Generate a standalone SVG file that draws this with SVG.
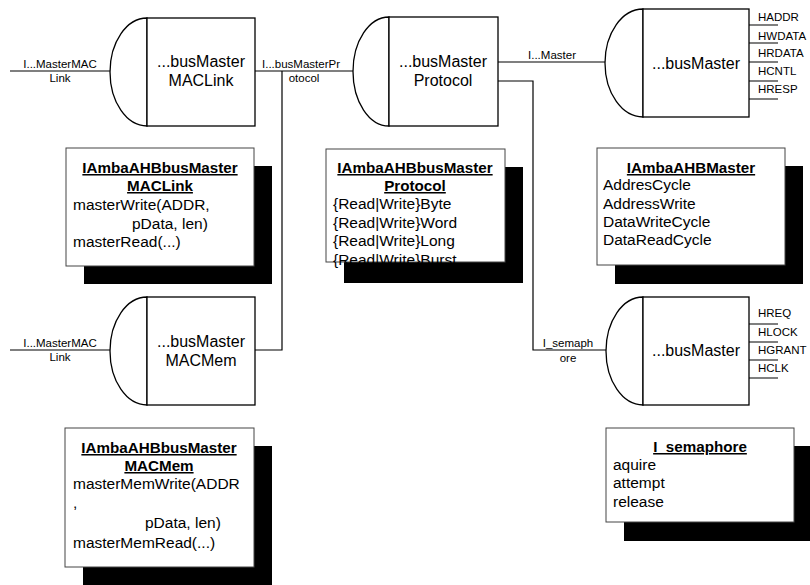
<svg xmlns="http://www.w3.org/2000/svg" width="810" height="585" viewBox="0 0 810 585">
<style>
.bg{fill:#fff}
.nd{fill:#fff;stroke:#000;stroke-width:1.3}
.nt{font-family:"Liberation Sans",Arial,sans-serif;font-size:16px;fill:#000;text-anchor:middle}
.ln{fill:none;stroke:#000;stroke-width:1.2}
.lb{font-family:"Liberation Sans",Arial,sans-serif;font-size:11.5px;fill:#000}
.mid{text-anchor:middle}
.sh{fill:#000}
.bx{fill:#fff;stroke:#444;stroke-width:1}
.bt{font-family:"Liberation Sans",Arial,sans-serif;font-size:15.5px;fill:#000}
.ti{font-weight:bold;text-decoration:underline;text-anchor:middle;font-size:15.2px}
</style>
<rect class="bg" x="0" y="0" width="810" height="585"/>
<g id="connectors">
<path class="ln" d="M10,71 H110"/>
<path class="ln" d="M255,71 H353"/>
<path class="ln" d="M282,71 V350 H255"/>
<path class="ln" d="M10,350 H110"/>
<path class="ln" d="M498,62 H605"/>
<path class="ln" d="M498,81 H533 V350 H606"/>
<text class="lb mid" x="60" y="68">I...MasterMAC</text>
<text class="lb mid" x="60" y="82">Link</text>
<text class="lb" x="262" y="68">I...busMasterPr</text>
<text class="lb mid" x="304" y="82">otocol</text>
<text class="lb mid" x="60" y="347">I...MasterMAC</text>
<text class="lb mid" x="60" y="361">Link</text>
<text class="lb mid" x="552" y="59">I...Master</text>
<text class="lb mid" x="568" y="347">I_semaph</text>
<text class="lb mid" x="568" y="362">ore</text>
</g>
<g id="node-macLink">
<path class="nd" d="M147,18 A37,54 0 0 0 147,126 Z"/>
<rect class="nd" x="147" y="18" width="108" height="108"/>
<text class="nt" x="201" y="67">...busMaster</text>
<text class="nt" x="201" y="86">MACLink</text>
</g>
<g id="node-protocol">
<path class="nd" d="M389,17 A36,54.5 0 0 0 389,126 Z"/>
<rect class="nd" x="389" y="17" width="109" height="109"/>
<text class="nt" x="443" y="67">...busMaster</text>
<text class="nt" x="443" y="86">Protocol</text>
</g>
<g id="node-master">
<path class="nd" d="M643,9 A38,54 0 0 0 643,117 Z"/>
<rect class="nd" x="643" y="9" width="106" height="108"/>
<text class="nt" x="696" y="69">...busMaster</text>
<path class="ln" d="M749,25 H778 M749,43 H778 M749,62 H778 M749,81 H778 M749,99 H778"/>
<text class="lb" x="758" y="21">HADDR</text>
<text class="lb" x="758" y="40">HWDATA</text>
<text class="lb" x="758" y="57">HRDATA</text>
<text class="lb" x="758" y="75">HCNTL</text>
<text class="lb" x="758" y="93">HRESP</text>
</g>
<g id="node-macMem">
<path class="nd" d="M147,297 A37,54 0 0 0 147,405 Z"/>
<rect class="nd" x="147" y="297" width="108" height="108"/>
<text class="nt" x="201" y="347">...busMaster</text>
<text class="nt" x="201" y="366">MACMem</text>
</g>
<g id="node-semaphore">
<path class="nd" d="M643,297 A37,54 0 0 0 643,405 Z"/>
<rect class="nd" x="643" y="297" width="106" height="108"/>
<text class="nt" x="696" y="356">...busMaster</text>
<path class="ln" d="M749,324 H778 M749,342 H778 M749,360 H778 M749,378 H778"/>
<text class="lb" x="758" y="317">HREQ</text>
<text class="lb" x="758" y="336">HLOCK</text>
<text class="lb" x="758" y="354">HGRANT</text>
<text class="lb" x="758" y="372">HCLK</text>
</g>
<g id="box-macLink">
<rect class="sh" x="84" y="166" width="188" height="118"/>
<rect class="bx" x="66" y="148" width="188" height="118"/>
<text class="bt ti" x="160" y="173">IAmbaAHBbusMaster</text>
<text class="bt ti" x="160" y="191">MACLink</text>
<text class="bt" x="73" y="210">masterWrite(ADDR,</text>
<text class="bt" x="132" y="228.5">pData, len)</text>
<text class="bt" x="73" y="247">masterRead(...)</text>
</g>
<g id="box-protocol">
<rect class="sh" x="344" y="167" width="179" height="116"/>
<rect class="bx" x="326" y="149" width="179" height="113"/>
<text class="bt ti" x="415" y="173">IAmbaAHBbusMaster</text>
<text class="bt ti" x="415" y="191">Protocol</text>
<text class="bt" x="333" y="209">{Read|Write}Byte</text>
<text class="bt" x="333" y="227.5">{Read|Write}Word</text>
<text class="bt" x="333" y="246">{Read|Write}Long</text>
<text class="bt" x="333" y="264.5">{Read|Write}Burst</text>
</g>
<g id="box-master">
<rect class="sh" x="615" y="166" width="188" height="118"/>
<rect class="bx" x="597" y="148" width="188" height="117"/>
<text class="bt ti" x="691" y="173">IAmbaAHBMaster</text>
<text class="bt" x="603" y="190">AddresCycle</text>
<text class="bt" x="603" y="208.5">AddressWrite</text>
<text class="bt" x="603" y="227">DataWriteCycle</text>
<text class="bt" x="603" y="245">DataReadCycle</text>
</g>
<g id="box-macMem">
<rect class="sh" x="83" y="446" width="189" height="139"/>
<rect class="bx" x="65" y="428" width="189" height="139"/>
<text class="bt ti" x="159" y="453">IAmbaAHBbusMaster</text>
<text class="bt ti" x="159" y="471">MACMem</text>
<text class="bt" x="73" y="489">masterMemWrite(ADDR</text>
<text class="bt" x="73" y="508">,</text>
<text class="bt" x="145" y="528">pData, len)</text>
<text class="bt" x="73" y="548">masterMemRead(...)</text>
</g>
<g id="box-semaphore">
<rect class="sh" x="624" y="446" width="188" height="95"/>
<rect class="bx" x="606" y="428" width="188" height="94"/>
<text class="bt ti" x="700" y="452">I_semaphore</text>
<text class="bt" x="613" y="470">aquire</text>
<text class="bt" x="613" y="488">attempt</text>
<text class="bt" x="613" y="507">release</text>
</g>
</svg>
